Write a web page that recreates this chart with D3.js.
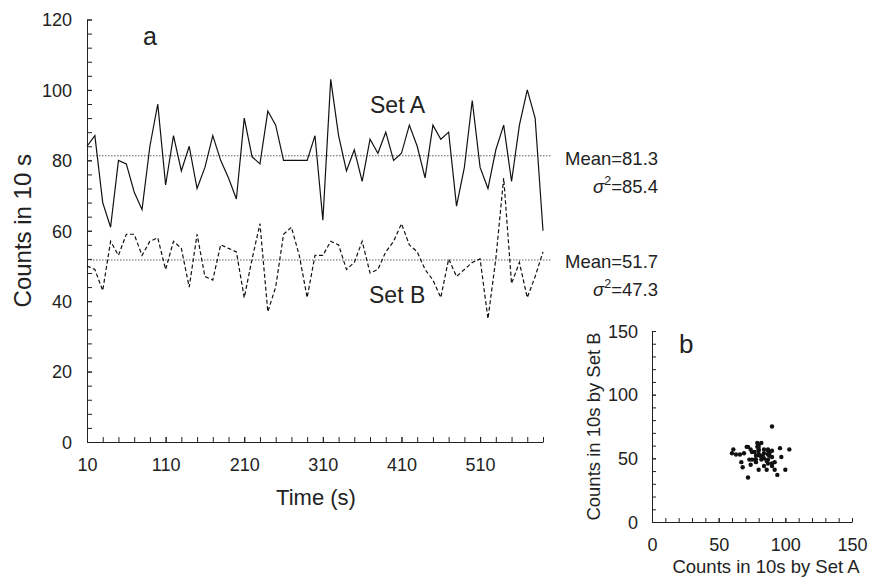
<!DOCTYPE html>
<html>
<head>
<meta charset="utf-8">
<script src="https://cdn.jsdelivr.net/npm/d3@7"></script>
<style>
  html, body { margin: 0; padding: 0; background: #fff; }
  svg { display: block; font-family: "Liberation Sans", Arial, sans-serif; }
  .axis path, .axis line { stroke: #222; stroke-width: 1; }
  .axis text { fill: #222; }
</style>
</head>
<body>
<svg id="chart" width="869" height="579"></svg>
<script>
// ---- data ----
const times = d3.range(10, 600, 10); // 10 .. 590 s
const setA = [84, 87, 68, 61, 80, 79, 71, 66, 84, 96,
              73, 87, 77, 84, 72, 78, 87, 80, 75, 69,
              92, 81, 79, 94, 90, 80, 80, 80, 80, 87,
              63, 103, 87, 77, 83, 74, 86, 82, 88, 80,
              82, 90, 84, 75, 90, 86, 88, 67, 78, 97,
              78, 72, 83, 90, 74, 90, 100, 92, 60];
const setB = [50, 49, 43, 57, 53, 59, 59, 53, 57, 58,
              49, 57, 55, 44, 59, 47, 46, 56, 55, 54,
              41, 52, 62, 37, 44, 59, 61, 53, 41, 53,
              53, 57, 56, 49, 51, 57, 48, 49, 54, 57,
              62, 56, 54, 49, 46, 41, 52, 47, 49, 51,
              52, 35, 52, 75, 45, 51, 41, 47, 54];
const meanA = 81.3, varA = 85.4;
const meanB = 51.7, varB = 47.3;
const xTickLabels = [10, 110, 210, 310, 410, 510];
const yTickLabels = [0, 20, 40, 60, 80, 100, 120];
const sTickLabels = [0, 50, 100, 150];

const svg = d3.select("#chart");
const ink = "#222";

// ---- panel a ----
const x = d3.scaleLinear().domain([10, 590]).range([87, 543]);
const y = d3.scaleLinear().domain([0, 120]).range([442, 19.5]);

// minor ticks
svg.append("g").attr("class", "axis").attr("transform", `translate(${x(10)},0)`)
  .call(d3.axisLeft(y).tickValues(d3.range(0, 121, 4)).tickSize(-5).tickFormat(""))
  .call(g => g.select(".domain").remove());
svg.append("g").attr("class", "axis").attr("transform", `translate(0,${y(0)})`)
  .call(d3.axisBottom(x).tickValues(d3.range(10, 591, 20)).tickSize(-5).tickFormat(""))
  .call(g => g.select(".domain").remove());
// labelled axes
svg.append("g").attr("class", "axis").attr("transform", `translate(${x(10)},0)`)
  .call(d3.axisLeft(y).tickValues(yTickLabels).tickSize(-5).tickSizeOuter(0).tickPadding(15))
  .call(g => g.selectAll("text").attr("font-size", 18).attr("dy", "0.35em"));
svg.append("g").attr("class", "axis").attr("transform", `translate(0,${y(0)})`)
  .call(d3.axisBottom(x).tickValues(xTickLabels).tickSize(-5).tickSizeOuter(0).tickPadding(16))
  .call(g => g.selectAll("text").attr("font-size", 18));
svg.selectAll(".axis .domain").attr("stroke", ink);

// mean lines
[meanA, meanB].forEach(m => {
  svg.append("line")
    .attr("x1", x(10)).attr("x2", x(600))
    .attr("y1", y(m)).attr("y2", y(m))
    .attr("stroke", "#333").attr("stroke-width", 0.8)
    .attr("stroke-dasharray", "1.5,1.5");
});

const line = d3.line().x((d, i) => x(times[i])).y(d => y(d));
svg.append("path").datum(setA).attr("d", line)
  .attr("fill", "none").attr("stroke", "#111").attr("stroke-width", 1.2);
svg.append("path").datum(setB).attr("d", line)
  .attr("fill", "none").attr("stroke", "#111").attr("stroke-width", 1.2)
  .attr("stroke-dasharray", "4,2.5");

// labels panel a
svg.append("text").attr("x", 143).attr("y", 45).attr("font-size", 25).attr("fill", ink).text("a");
svg.append("text").attr("x", 370).attr("y", 113).attr("font-size", 23).attr("fill", ink).text("Set A");
svg.append("text").attr("x", 369).attr("y", 303).attr("font-size", 23).attr("fill", ink).text("Set B");

function statText(mean, v, yMean, ySig) {
  svg.append("text").attr("x", 565).attr("y", yMean).attr("font-size", 18.5).attr("fill", ink)
    .text(`Mean=${mean.toFixed(1)}`);
  const t = svg.append("text").attr("x", 658).attr("y", ySig).attr("font-size", 18.5)
    .attr("fill", ink).attr("text-anchor", "end");
  t.append("tspan").attr("font-style", "italic").text("σ");
  t.append("tspan").attr("font-size", 12.5).attr("dy", -8).text("2");
  t.append("tspan").attr("dy", 8).text(`=${v.toFixed(1)}`);
}
statText(meanA, varA, 165, 193);
statText(meanB, varB, 268, 296);

svg.append("text").attr("transform", `translate(31,${(y(0) + y(120)) / 2}) rotate(-90)`)
  .attr("text-anchor", "middle").attr("font-size", 24).attr("fill", ink).text("Counts in 10 s");
svg.append("text").attr("x", 316).attr("y", 505)
  .attr("text-anchor", "middle").attr("font-size", 22).attr("fill", ink).text("Time (s)");

// ---- panel b ----
const sx = d3.scaleLinear().domain([0, 150]).range([652, 852]);
const sy = d3.scaleLinear().domain([0, 150]).range([522, 331]);

svg.append("g").attr("class", "axis").attr("transform", `translate(${sx(0)},0)`)
  .call(d3.axisLeft(sy).tickValues(d3.range(0, 151, 10)).tickSize(-4).tickFormat(""))
  .call(g => g.select(".domain").remove());
svg.append("g").attr("class", "axis").attr("transform", `translate(0,${sy(0)})`)
  .call(d3.axisBottom(sx).tickValues(d3.range(0, 151, 10)).tickSize(-4).tickFormat(""))
  .call(g => g.select(".domain").remove());
svg.append("g").attr("class", "axis").attr("transform", `translate(${sx(0)},0)`)
  .call(d3.axisLeft(sy).tickValues(sTickLabels).tickSize(-4).tickSizeOuter(0).tickPadding(14))
  .call(g => g.selectAll("text").attr("font-size", 18).attr("dy", "0.35em"));
svg.append("g").attr("class", "axis").attr("transform", `translate(0,${sy(0)})`)
  .call(d3.axisBottom(sx).tickValues(sTickLabels).tickSize(-4).tickSizeOuter(0).tickPadding(16))
  .call(g => g.selectAll("text").attr("font-size", 18));

svg.append("g").selectAll("circle").data(setA).join("circle")
  .attr("cx", d => sx(d)).attr("cy", (d, i) => sy(setB[i]))
  .attr("r", 2.2).attr("fill", "#111");

svg.append("text").attr("x", 679).attr("y", 353).attr("font-size", 26).attr("fill", ink).text("b");
svg.append("text").attr("transform", `translate(600,${(sy(0) + sy(150)) / 2}) rotate(-90)`)
  .attr("text-anchor", "middle").attr("font-size", 18.5).attr("fill", ink).text("Counts in 10s by Set B");
svg.append("text").attr("x", 766).attr("y", 573)
  .attr("text-anchor", "middle").attr("font-size", 18.5).attr("fill", ink).text("Counts in 10s by Set A");
</script>
</body>
</html>
